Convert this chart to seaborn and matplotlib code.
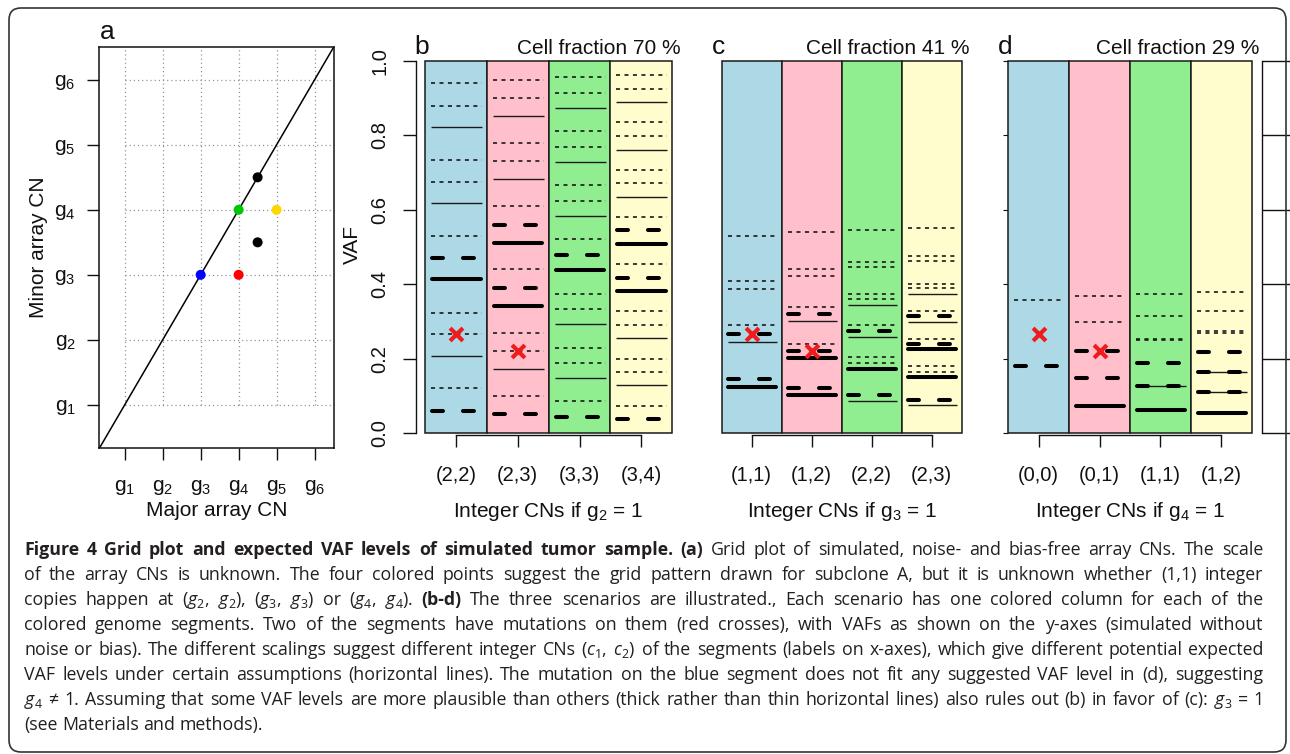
import matplotlib
matplotlib.use("Agg")
import matplotlib.pyplot as plt
import matplotlib.transforms as mtransforms
from matplotlib.patches import FancyBboxPatch
import seaborn as sns
import pandas as pd

# ------------------------------------------------------------------ data
# panel a: grid plot of array copy numbers
g_levels = [1, 2, 3, 4, 5, 6]
g_labels = [r"$\mathregular{g_1}$", r"$\mathregular{g_2}$", r"$\mathregular{g_3}$",
            r"$\mathregular{g_4}$", r"$\mathregular{g_5}$", r"$\mathregular{g_6}$"]
seg_names = ["blue", "red", "green", "yellow", "black_hi", "black_lo"]
seg_major = [3.0, 4.0, 4.0, 5.0, 4.5, 4.5]
seg_minor = [3.0, 3.0, 4.0, 4.0, 4.5, 3.5]
seg_colors = ["#0000FF", "#FF0000", "#00C800", "#FFD700", "#000000", "#000000"]

# panels b-d: expected VAF levels
col_colors = ["#ADD8E6", "#FFC0CB", "#90EE90", "#FFFCCD"]
vaf_ticks = [0.0, 0.2, 0.4, 0.6, 0.8, 1.0]
vaf_tick_labels = ["0.0", "0.2", "0.4", "0.6", "0.8", "1.0"]
mut_col = [0, 1]
mut_vaf = [0.265, 0.221]

b_title = "Cell fraction 70 %"
b_xlabel = r"Integer CNs if $\mathregular{g_2}$ = 1"
b_cn = ["(2,2)", "(2,3)", "(3,3)", "(3,4)"]
b_dash = [[0.940, 0.880, 0.735, 0.676, 0.529, 0.323, 0.265, 0.121],
          [0.950, 0.901, 0.779, 0.730, 0.609, 0.440, 0.270, 0.221, 0.099],
          [0.956, 0.915, 0.811, 0.770, 0.666, 0.625, 0.521, 0.375, 0.334, 0.229, 0.188, 0.085],
          [0.962, 0.926, 0.835, 0.799, 0.708, 0.672, 0.581, 0.454, 0.327, 0.290, 0.200, 0.164, 0.073]]
b_thin = [[0.822, 0.618, 0.207], [0.852, 0.682, 0.172],
          [0.874, 0.728, 0.583, 0.293, 0.147], [0.889, 0.762, 0.635, 0.255, 0.128]]
b_tdash = [[0.471, 0.060], [0.560, 0.390, 0.050], [0.479, 0.044], [0.545, 0.418, 0.037]]
b_thick = [[0.413], [0.512, 0.342], [0.438], [0.508, 0.381]]

c_title = "Cell fraction 41 %"
c_xlabel = r"Integer CNs if $\mathregular{g_3}$ = 1"
c_cn = ["(1,1)", "(1,2)", "(2,2)", "(2,3)"]
c_dash = [[0.529, 0.408, 0.386, 0.289],
          [0.540, 0.440, 0.422, 0.339, 0.239],
          [0.547, 0.461, 0.446, 0.375, 0.359, 0.290, 0.205, 0.188],
          [0.551, 0.476, 0.463, 0.401, 0.389, 0.328, 0.253, 0.179, 0.165]]
c_thin = [[0.244], [0.302], [0.344, 0.258, 0.087], [0.374, 0.299, 0.076]]
c_tdash = [[0.266, 0.146], [0.320, 0.221, 0.121], [0.274, 0.103], [0.314, 0.239, 0.089]]
c_thick = [[0.123], [0.201, 0.101], [0.172], [0.225, 0.150]]

d_title = "Cell fraction 29 %"
d_xlabel = r"Integer CNs if $\mathregular{g_4}$ = 1"
d_cn = ["(0,0)", "(0,1)", "(1,1)", "(1,2)"]
d_dash = [[0.357], [0.369, 0.298], [0.375, 0.315, 0.253, 0.249], [0.380, 0.327, 0.274, 0.270]]
d_thin = [[], [], [0.127], [0.164, 0.109]]
d_tdash = [[0.180], [0.221, 0.149], [0.188, 0.127], [0.218, 0.164, 0.111]]
d_thick = [[], [0.072], [0.062], [0.054]]

caption_lines = [
    [("Figure 4 Grid plot and expected VAF levels of simulated tumor sample. (a)", "bold"),
     ("Grid plot of simulated, noise- and bias-free array CNs. The scale", "normal")],
    [("of the array CNs is unknown. The four colored points suggest the grid pattern drawn for "
      "subclone A, but it is unknown whether (1,1) integer", "normal")],
    [("copies happen at ($g_2$, $g_2$), ($g_3$, $g_3$) or ($g_4$, $g_4$).", "normal"),
     ("(b-d)", "bold"),
     ("The three scenarios are illustrated., Each scenario has one colored column for each of the", "normal")],
    [("colored genome segments. Two of the segments have mutations on them (red crosses), with VAFs "
      "as shown on the y-axes (simulated without", "normal")],
    [("noise or bias). The different scalings suggest different integer CNs ($c_1$, $c_2$) of the "
      "segments (labels on x-axes), which give different potential expected", "normal")],
    [("VAF levels under certain assumptions (horizontal lines). The mutation on the blue segment does "
      "not fit any suggested VAF level in (d), suggesting", "normal")],
    [("$g_4$ \u2260 1. Assuming that some VAF levels are more plausible than others (thick rather than "
      "thin horizontal lines) also rules out (b) in favor of (c): $g_3$ = 1", "normal")],
    [("(see Materials and methods).", "normal")],
]

# ------------------------------------------------------------------ style
sns.set_style("ticks")
plt.rcParams.update({
    "font.family": ["Liberation Sans", "DejaVu Sans"],
    "lines.scale_dashes": False,
    "mathtext.fontset": "custom",
    "mathtext.rm": "Open Sans",
    "mathtext.it": "Open Sans:italic",
    "mathtext.bf": "Open Sans:bold",
    "axes.linewidth": 1.1,
    "axes.edgecolor": "#111111",
    "xtick.color": "#111111",
    "ytick.color": "#111111",
    "text.color": "#111111",
})

W, H = 1290, 754
fig = plt.figure(figsize=(W / 100, H / 100), dpi=100)
fig.patch.set_facecolor("white")


def add_ax(x0, y0, x1, y1):
    return fig.add_axes([x0 / W, 1 - y1 / H, (x1 - x0) / W, (y1 - y0) / H])


def ftext(x, y, s, **kw):
    return fig.text(x / W, 1 - y / H, s, **kw)


# outer rounded frame
frame = FancyBboxPatch((9, H - 752), 1277, 744, boxstyle="round,pad=0,rounding_size=12",
                       transform=mtransforms.IdentityTransform(), facecolor="none",
                       edgecolor="#333333", linewidth=1.2)
fig.add_artist(frame)

# ------------------------------------------------------------------ panel a
ax = add_ax(99.3, 46.7, 334.3, 447.7)
ax.set_xlim(0.33, 6.52)
ax.set_ylim(0.34, 6.51)
GRID = "#8a8a8a"
ax.hlines(g_levels, g_levels[0], 6.52, colors=GRID, linewidth=0.9,
          linestyles=(0, (0.8, 2.2)), zorder=1)
ax.vlines(g_levels, g_levels[0], 6.51, colors=GRID, linewidth=0.9,
          linestyles=(0, (0.8, 2.2)), zorder=1)
ax.axline((g_levels[0], g_levels[0]), slope=1, color="black", lw=1.1, zorder=2)
sns.scatterplot(x=seg_major, y=seg_minor, hue=seg_names, hue_order=seg_names,
                palette=dict(zip(seg_names, seg_colors)), s=52, linewidth=0,
                legend=False, ax=ax, zorder=3)
ax.set_xticks(g_levels, g_labels)
ax.set_yticks(g_levels, g_labels)
ax.tick_params(axis="both", direction="out", length=8.6, width=1.0, labelsize=15)
ax.tick_params(axis="x", pad=13.5)
ax.tick_params(axis="y", pad=8.4)
ax.set_xlabel("")
ax.set_ylabel("")
for sp in ax.spines.values():
    sp.set_visible(True)
    sp.set_linewidth(1.1)
    sp.set_color("#111111")
ftext(107, 39, "a", fontsize=19, ha="center", va="baseline")
ftext(217, 516, "Major array CN", fontsize=15, ha="center", va="baseline")
ftext(38, 247, "Minor array CN", fontsize=15, ha="center", va="center", rotation=90)


# ------------------------------------------------------------------ panels b-d
def vaf_panel(ax, cns, dash, thin, tdash, thick, show_y):
    idx = list(range(len(cns)))
    df = pd.DataFrame({"pos": idx, "cn": cns, "top": [1.0] * len(cns)})
    sns.barplot(data=df, x="pos", y="top", hue="cn", hue_order=cns, palette=col_colors,
                dodge=False, width=1.0, saturation=1.0, edgecolor="#1a1a1a", linewidth=1.1,
                errorbar=None, legend=False, ax=ax, zorder=1)
    for p in ax.patches:
        p.set_clip_on(False)
    ax.set_xlim(-0.5, len(cns) - 0.5)
    ax.set_ylim(0, 1)
    for i in idx:
        left = i - 0.5
        for y in dash[i]:
            ax.plot([left + 0.097, left + 0.92], [y, y], color="#1a1a1a", lw=1.2,
                    linestyle=(0, (2.9, 3.2)), dash_capstyle="butt", zorder=3)
        for y in thin[i]:
            ax.plot([left + 0.097, left + 0.92], [y, y], color="#1a1a1a", lw=1.0,
                    solid_capstyle="butt", zorder=3)
        for y in tdash[i]:
            ax.plot([left + 0.112, left + 0.91], [y, y], color="black", lw=2.9,
                    linestyle=(0, (7.9, 14.4)), dash_capstyle="round", zorder=4)
        for y in thick[i]:
            ax.plot([left + 0.112, left + 0.90], [y, y], color="black", lw=2.9,
                    solid_capstyle="round", zorder=4)
    sns.scatterplot(x=mut_col, y=mut_vaf, marker="x", color="#EE1C1C", s=85,
                    linewidth=3.0, ax=ax, zorder=6, legend=False)
    ax.set_xlabel("")
    ax.set_ylabel("")
    ax.spines["top"].set_visible(False)
    ax.spines["right"].set_visible(False)
    ax.spines["bottom"].set_position(("outward", 1.6))
    ax.spines["bottom"].set_bounds(idx[0], idx[-1])
    ax.spines["bottom"].set_linewidth(1.0)
    ax.set_xticks(idx, cns)
    ax.tick_params(axis="x", direction="out", length=8.6, width=1.0, labelsize=14.5, pad=13.5)
    if show_y:
        ax.spines["left"].set_position(("outward", 6.5))
        ax.spines["left"].set_bounds(0, 1)
        ax.spines["left"].set_linewidth(1.0)
        ax.set_yticks(vaf_ticks, vaf_tick_labels, rotation=90, va="center")
        ax.tick_params(axis="y", direction="out", length=9.5, width=1.0, labelsize=14.5, pad=9.5)
    else:
        ax.spines["left"].set_visible(False)
        ax.tick_params(axis="y", left=False, labelleft=False)


panels = [
    (425.0, 672.3, "b", b_title, b_xlabel, b_cn, b_dash, b_thin, b_tdash, b_thick, True),
    (721.7, 961.7, "c", c_title, c_xlabel, c_cn, c_dash, c_thin, c_tdash, c_thick, False),
    (1008.3, 1251.7, "d", d_title, d_xlabel, d_cn, d_dash, d_thin, d_tdash, d_thick, False),
]
last_ax = None
for x0, x1, letter, title, xlabel, cns, dash, thin, tdash, thick, show_y in panels:
    axp = add_ax(x0, 61.0, x1, 433.0)
    vaf_panel(axp, cns, dash, thin, tdash, thick, show_y)
    ftext(x0 - 3, 53.5, letter, fontsize=19, ha="center", va="baseline")
    ftext(x1 + 8, 54, title, fontsize=15, ha="right", va="baseline")
    ftext((x0 + x1) / 2, 517, xlabel, fontsize=15, ha="center", va="baseline")
    last_ax = axp

ftext(352, 245, "VAF", fontsize=15, ha="center", va="center", rotation=90)

# partial axis of a following panel at the right edge
ax_r = last_ax.twinx()
ax_r.set_ylim(0, 1)
for k in ["top", "left", "bottom"]:
    ax_r.spines[k].set_visible(False)
ax_r.spines["right"].set_position(("outward", 7.2))
ax_r.spines["right"].set_bounds(0, 1)
ax_r.spines["right"].set_linewidth(1.0)
ax_r.set_yticks(vaf_ticks)
ax_r.tick_params(axis="y", direction="out", length=22, width=1.0, labelright=False)

# ------------------------------------------------------------------ caption
CAP_FAMILY = ["Open Sans", "DejaVu Sans"]
CAP_COLOR = "#231F20"
renderer = fig.canvas.get_renderer()
X_LEFT, X_RIGHT = 24.0, 1263.5


def split_words(line):
    out = []
    for seg, wt in line:
        for w in seg.split(" "):
            if w:
                out.append((w, wt))
    return out


def measure(words, fs):
    res = []
    for w, wt in words:
        t = fig.text(0, 0, w, fontsize=fs, fontweight=wt, family=CAP_FAMILY)
        res.append(t.get_window_extent(renderer).width)
        t.remove()
    return res


def space_width(fs):
    t1 = fig.text(0, 0, "n n", fontsize=fs, family=CAP_FAMILY)
    t2 = fig.text(0, 0, "nn", fontsize=fs, family=CAP_FAMILY)
    w = t1.get_window_extent(renderer).width - t2.get_window_extent(renderer).width
    t1.remove()
    t2.remove()
    return w


fs = 12.8
target = X_RIGHT - X_LEFT
all_words = [split_words(l) for l in caption_lines]
sp = space_width(fs)
naturals = [sum(measure(ws, fs)) + sp * (len(ws) - 1) for ws in all_words[:-1]]
worst = max(naturals)
if worst > 0.995 * target:
    fs = fs * 0.995 * target / worst
sp = space_width(fs)

for k, ws in enumerate(all_words):
    yb = 555 + 25 * k
    widths = measure(ws, fs)
    justify = k < len(all_words) - 1
    if justify and len(ws) > 1:
        gap = (target - sum(widths)) / (len(ws) - 1)
    else:
        gap = sp
    x = X_LEFT
    for (w, wt), wd in zip(ws, widths):
        ftext(x, yb, w, fontsize=fs, fontweight=wt, family=CAP_FAMILY, color=CAP_COLOR,
              ha="left", va="baseline")
        x += wd + gap

fig.savefig("out.png", dpi=100, facecolor="white")
